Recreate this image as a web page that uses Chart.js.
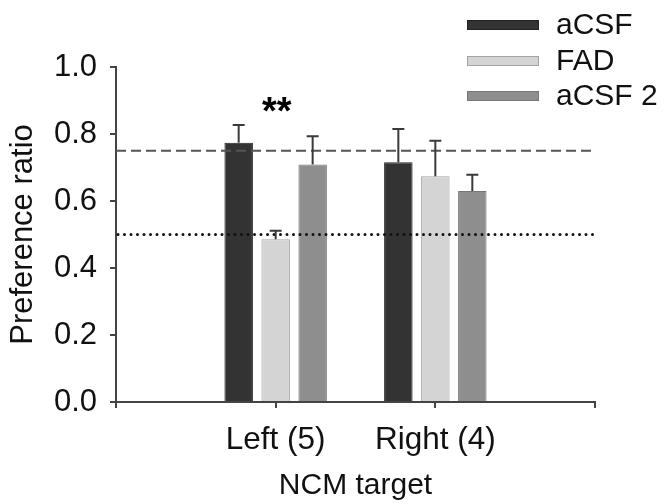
<!DOCTYPE html>
<html>
<head>
<meta charset="utf-8">
<script src="https://cdn.jsdelivr.net/npm/chart.js@4"></script>
<style>
  html, body { margin: 0; padding: 0; background: #fff; }
  #wrap { width: 667px; height: 504px; }
</style>
</head>
<body>
<div id="wrap"><canvas id="chart" width="667" height="504"></canvas></div>
<script>
/* ── Datos ─────────────────────────────────────────── */
const categories = ['', 'Left (5)', 'Right (4)', ''];
const seriesNames = ['aCSF', 'FAD', 'aCSF 2'];

const aCSF      = [null, 0.774, 0.716, null];
const aCSFErr   = [null, 0.053, 0.099, null];
const fad       = [null, 0.486, 0.674, null];
const fadErr    = [null, 0.025, 0.106, null];
const aCSF2     = [null, 0.709, 0.630, null];
const aCSF2Err  = [null, 0.084, 0.048, null];

const yTicks = [0.0, 0.2, 0.4, 0.6, 0.8, 1.0];
const dashedLevel = 0.75;
const dottedLevel = 0.5;
const starText = '**';
const starCategory = 1;   // Left (5)
const starValue = 0.89;

const FONT = '"Liberation Sans", Arial, sans-serif';

/* ── Plugin: líneas de referencia, barras de error, leyenda ── */
const extras = {
  id: 'extras',
  afterDatasetsDraw(chart) {
    const { ctx, chartArea, scales: { x, y } } = chart;
    ctx.save();

    // linea discontinua 0.75
    ctx.strokeStyle = '#555';
    ctx.lineWidth = 2;
    ctx.setLineDash([10, 5]);
    ctx.beginPath();
    ctx.moveTo(chartArea.left, y.getPixelForValue(dashedLevel));
    ctx.lineTo(chartArea.right, y.getPixelForValue(dashedLevel));
    ctx.stroke();

    // linea punteada 0.5
    ctx.strokeStyle = '#111';
    ctx.lineWidth = 3;
    ctx.lineCap = 'round';
    ctx.setLineDash([0, 6.5]);
    ctx.beginPath();
    ctx.moveTo(chartArea.left + 2, y.getPixelForValue(dottedLevel));
    ctx.lineTo(chartArea.right, y.getPixelForValue(dottedLevel));
    ctx.stroke();
    ctx.setLineDash([]);
    ctx.lineCap = 'butt';

    // barras de error (solo hacia arriba)
    const errs = [aCSFErr, fadErr, aCSF2Err];
    chart.data.datasets.forEach((ds, di) => {
      const meta = chart.getDatasetMeta(di);
      meta.data.forEach((bar, i) => {
        const v = ds.data[i], e = errs[di][i];
        if (v == null || e == null) return;
        const yTop = y.getPixelForValue(v + e);
        ctx.strokeStyle = '#3a3a3a';
        ctx.lineWidth = 2;
        ctx.beginPath();
        ctx.moveTo(bar.x, bar.y);
        ctx.lineTo(bar.x, yTop);
        ctx.moveTo(bar.x - 6, yTop);
        ctx.lineTo(bar.x + 6, yTop);
        ctx.stroke();
      });
    });

    // asteriscos
    const fadBar = chart.getDatasetMeta(1).data[starCategory];
    ctx.fillStyle = '#000';
    ctx.font = 'bold 38px ' + FONT;
    ctx.textAlign = 'center';
    ctx.textBaseline = 'alphabetic';
    ctx.fillText(starText, fadBar.x + 1, y.getPixelForValue(starValue) + 20);

    // leyenda
    const rowsY = [25, 61, 96];
    chart.data.datasets.forEach((ds, di) => {
      const cy = rowsY[di];
      ctx.fillStyle = ds.backgroundColor;
      ctx.fillRect(467, cy - 5, 72, 10);
      ctx.strokeStyle = ds.borderColor;
      ctx.lineWidth = 1;
      ctx.strokeRect(467.5, cy - 4.5, 71, 9);
      ctx.fillStyle = '#111';
      ctx.font = '30px ' + FONT;
      ctx.textAlign = 'left';
      ctx.textBaseline = 'middle';
      ctx.fillText(ds.label, 556, cy + 1);
    });

    ctx.restore();
  }
};

new Chart(document.getElementById('chart'), {
  type: 'bar',
  data: {
    labels: categories,
    datasets: [
      { label: seriesNames[0], data: aCSF,  backgroundColor: '#333333', borderColor: '#222222', borderWidth: 1 },
      { label: seriesNames[1], data: fad,   backgroundColor: '#d4d4d4', borderColor: '#a3a3a3', borderWidth: 1 },
      { label: seriesNames[2], data: aCSF2, backgroundColor: '#8e8e8e', borderColor: '#777777', borderWidth: 1 }
    ]
  },
  options: {
    responsive: false,
    animation: false,
    devicePixelRatio: 1,
    categoryPercentage: 0.695,
    barPercentage: 0.77,
    layout: { padding: { top: 67, right: 72, left: 0, bottom: 0 } },
    plugins: { legend: { display: false }, tooltip: { enabled: false } },
    scales: {
      x: {
        offset: false,
        afterFit: s => { s.height = 102; },
        grid: { display: true, offset: false, drawOnChartArea: false, drawTicks: true, tickLength: 6, color: '#444', lineWidth: 2 },
        border: { display: true, color: '#444', width: 2 },
        ticks: { color: '#111', font: { family: FONT, size: 31.5 }, padding: 13, maxRotation: 0, autoSkip: false },
        title: { display: true, text: 'NCM target', color: '#111', font: { family: FONT, size: 30 }, padding: { top: 0, bottom: 0 } }
      },
      y: {
        min: 0, max: 1.0,
        afterFit: s => { s.width = 116; },
        afterBuildTicks: s => { s.ticks = yTicks.map(v => ({ value: v })); },
        grid: { display: true, drawOnChartArea: false, drawTicks: true, tickLength: 6, color: '#444', lineWidth: 2 },
        border: { display: true, color: '#444', width: 2 },
        ticks: { color: '#111', font: { family: FONT, size: 31 }, padding: 13, callback: v => Number(v).toFixed(1) },
        title: { display: true, text: 'Preference ratio', color: '#111', font: { family: FONT, size: 31 }, padding: { top: 5, bottom: 0 } }
      }
    }
  },
  plugins: [extras]
});
</script>
</body>
</html>
